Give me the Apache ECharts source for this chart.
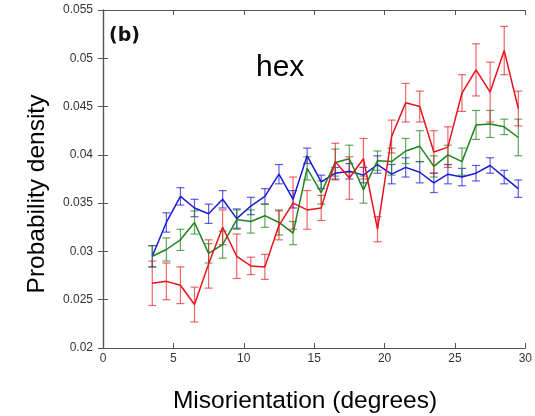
<!DOCTYPE html>
<html>
<head>
	<meta charset="utf-8">
	<title>hex misorientation</title>
	<script src="https://cdn.jsdelivr.net/npm/echarts@6/dist/echarts.min.js"></script>
	<style>html,body{margin:0;padding:0;background:#fff}</style>
</head>
<body>
	<div id="main" style="width:535px; height:416px"></div>
	<script type="text/javascript">
	// bin centres (degrees)
	var angles = [3.5, 4.5, 5.5, 6.5, 7.5, 8.5, 9.5, 10.5, 11.5, 12.5, 13.5, 14.5, 15.5, 16.5,
		17.5, 18.5, 19.5, 20.5, 21.5, 22.5, 23.5, 24.5, 25.5, 26.5, 27.5, 28.5, 29.5];

	var redVals = [0.0267, 0.0269, 0.0265, 0.0245, 0.0287, 0.0325, 0.0295, 0.0285, 0.0284, 0.0327,
		0.0350, 0.0343, 0.0345, 0.0393, 0.0376, 0.0396, 0.0323, 0.0419, 0.0454, 0.0450,
		0.0403, 0.0408, 0.0464, 0.0488, 0.0465, 0.0508, 0.0448];
	var redErr = [0.0023, 0.0019, 0.0019, 0.0018, 0.0025, 0.0018, 0.0023, 0.0009, 0.0013, 0.0015,
		0.0027, 0.0020, 0.0013, 0.0019, 0.0022, 0.0021, 0.0013, 0.0017, 0.0020, 0.0016,
		0.0022, 0.0021, 0.0019, 0.0027, 0.0031, 0.0025, 0.0018];

	var greenVals = [0.0295, 0.0302, 0.0312, 0.0330, 0.0298, 0.0307, 0.0333, 0.0331, 0.0337, 0.0330,
		0.0319, 0.0386, 0.0361, 0.0392, 0.0396, 0.0364, 0.0394, 0.0393, 0.0404, 0.0409,
		0.0388, 0.0400, 0.0393, 0.0431, 0.0432, 0.0429, 0.0418];
	var greenErr = [0.0011, 0.0012, 0.0011, 0.0012, 0.0010, 0.0014, 0.0010, 0.0012, 0.0012, 0.0013,
		0.0012, 0.0012, 0.0012, 0.0014, 0.0014, 0.0014, 0.0010, 0.0014, 0.0013, 0.0016,
		0.0011, 0.0010, 0.0014, 0.0015, 0.0014, 0.0008, 0.0019];

	var blueVals = [0.0295, 0.0330, 0.0357, 0.0345, 0.0339, 0.0354, 0.0334, 0.0347, 0.0357, 0.0380,
		0.0354, 0.0399, 0.0372, 0.0381, 0.0383, 0.0379, 0.0390, 0.0380, 0.0387, 0.0382,
		0.0371, 0.0380, 0.0377, 0.0381, 0.0389, 0.0377, 0.0365];
	var blueErr = [0.0011, 0.0010, 0.0009, 0.0009, 0.0010, 0.0009, 0.0010, 0.0009, 0.0008, 0.0010,
		0.0009, 0.0008, 0.0007, 0.0006, 0.0008, 0.0008, 0.0009, 0.0010, 0.0010, 0.0011,
		0.0010, 0.0010, 0.0009, 0.0008, 0.0008, 0.0007, 0.0009];

	var xTicks = [0, 5, 10, 15, 20, 25, 30];
	var yTicks = [0.02, 0.025, 0.03, 0.035, 0.04, 0.045, 0.05, 0.055];

	function pairs(vals) {
		return angles.map(function (a, i) { return [a, vals[i]]; });
	}
	function bars(vals, errs) {
		return angles.map(function (a, i) { return [a, vals[i] - errs[i], vals[i] + errs[i]]; });
	}

	// 误差棒：竖线 + 上下短横
	function errorBar(color) {
		return function (params, api) {
			var lo = api.coord([api.value(0), api.value(1)]);
			var hi = api.coord([api.value(0), api.value(2)]);
			var w = 4;
			var st = { stroke: color, lineWidth: 1.2 };
			return {
				type: 'group',
				children: [
					{ type: 'line', shape: { x1: hi[0], y1: hi[1], x2: lo[0], y2: lo[1] }, style: st },
					{ type: 'line', shape: { x1: hi[0] - w, y1: hi[1], x2: hi[0] + w, y2: hi[1] }, style: st },
					{ type: 'line', shape: { x1: lo[0] - w, y1: lo[1], x2: lo[0] + w, y2: lo[1] }, style: st }
				]
			};
		};
	}

	var lineCols = { red: '#e8121a', green: '#1f841f', blue: '#1a1ad8' };
	var barCols = { red: 'rgba(232,18,26,0.65)', green: 'rgba(31,132,31,0.7)', blue: 'rgba(26,26,216,0.7)' };

	function lineSeries(vals, color, z) {
		return {
			type: 'line', data: pairs(vals), symbol: 'none', z: z,
			lineStyle: { color: color, width: 1.5 }, animation: false
		};
	}
	function barSeries(vals, errs, color, z) {
		return {
			type: 'custom', data: bars(vals, errs), renderItem: errorBar(color), z: z,
			encode: { x: 0, y: [1, 2] }, animation: false
		};
	}

	var axisCol = '#555';
	var myChart = echarts.init(document.getElementById('main'));
	var option = {
		backgroundColor: '#ffffff',
		animation: false,
		grid: { left: 103, right: 5, top: 10, bottom: 68 },
		xAxis: [
			{
				type: 'value', min: 0, max: 30, interval: 5,
				axisLine: { lineStyle: { color: axisCol, width: 1.2 } },
				axisTick: { inside: true, length: 5, lineStyle: { color: axisCol } },
				axisLabel: { color: '#333', fontSize: 12, margin: 5, fontFamily: 'Liberation Sans' },
				splitLine: { show: false }
			},
			{
				type: 'value', min: 0, max: 30, interval: 5, position: 'top',
				axisLine: { show: true, lineStyle: { color: axisCol, width: 1.2 } },
				axisTick: { inside: true, length: 5, lineStyle: { color: axisCol } },
				axisLabel: { show: false }, splitLine: { show: false }
			}
		],
		yAxis: [
			{
				type: 'value', min: 0.02, max: 0.055, interval: 0.005,
				axisLine: { show: true, lineStyle: { color: axisCol, width: 1.2 } },
				axisTick: { show: true, inside: true, length: 5, lineStyle: { color: axisCol } },
				axisLabel: {
					color: '#333', fontSize: 12, margin: 10, fontFamily: 'Liberation Sans',
					formatter: function (v) { return String(+v.toFixed(3)); }
				},
				splitLine: { show: false }
			},
			{
				type: 'value', min: 0.02, max: 0.055, interval: 0.005, position: 'right',
				axisLine: { show: true, lineStyle: { color: axisCol, width: 1.2 } },
				axisTick: { show: true, inside: true, length: 5, lineStyle: { color: axisCol } },
				axisLabel: { show: false }, splitLine: { show: false }
			}
		],
		// 轴标题的位置与图框中心不对齐，所以用 graphic 放
		graphic: [
			{ type: 'text', left: 109, top: 27, style: { text: '(b)', font: 'bold 19px "DejaVu Sans"', fill: '#111' } },
			{ type: 'text', left: 256, top: 53, style: { text: 'hex', font: '30px "Liberation Sans"', fill: '#000' } },
			{
				type: 'text', x: 305, y: 401,
				style: { text: 'Misorientation (degrees)', font: '24.5px "Liberation Sans"', fill: '#000',
					align: 'center', verticalAlign: 'middle' }
			},
			{
				type: 'text', x: 37, y: 194, rotation: Math.PI / 2,
				style: { text: 'Probability density', font: '24.5px "Liberation Sans"', fill: '#000',
					align: 'center', verticalAlign: 'middle' }
			}
		],
		series: [
			barSeries(blueVals, blueErr, barCols.blue, 2),
			barSeries(greenVals, greenErr, barCols.green, 2),
			barSeries(redVals, redErr, barCols.red, 2),
			lineSeries(blueVals, lineCols.blue, 3),
			lineSeries(greenVals, lineCols.green, 3),
			lineSeries(redVals, lineCols.red, 3)
		]
	};
	myChart.setOption(option);
	</script>
</body>
</html>
